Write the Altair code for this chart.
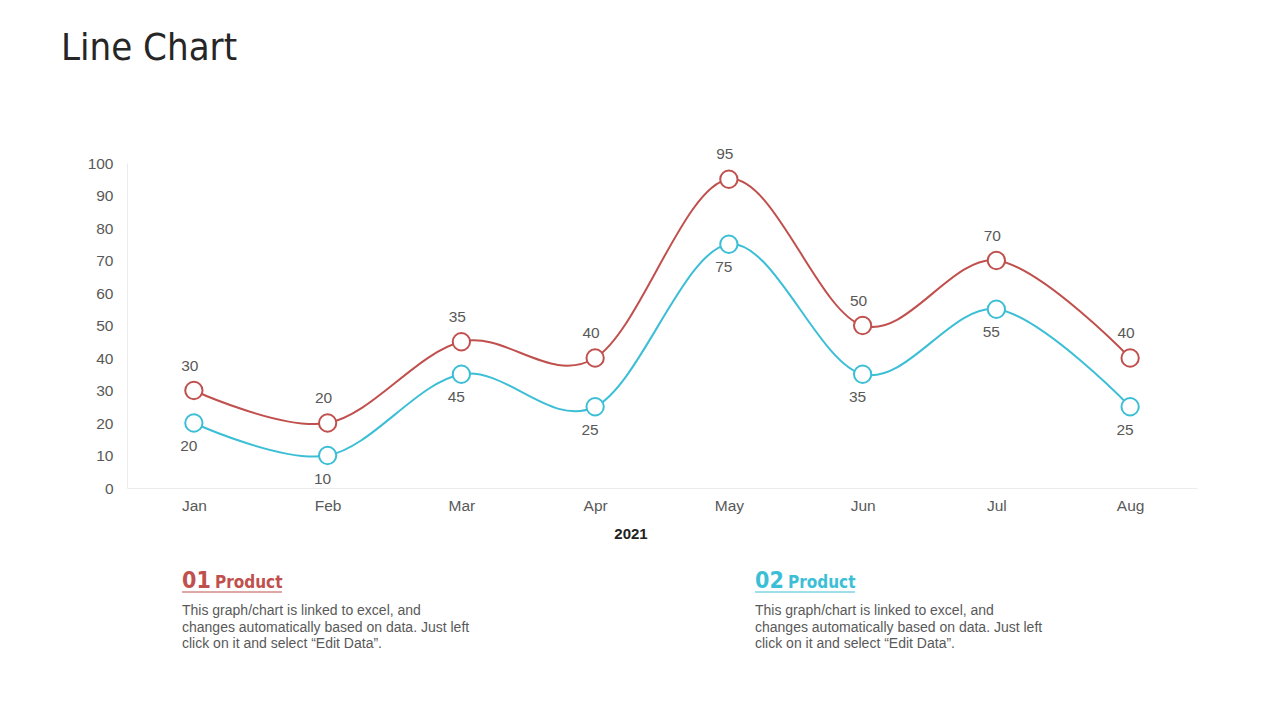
import altair as alt
import pandas as pd

months = ["Jan", "Feb", "Mar", "Apr", "May", "Jun", "Jul", "Aug"]
product1 = [30, 20, 45, 40, 95, 50, 70, 40]
product2 = [20, 10, 35, 25, 75, 35, 55, 25]
label1 = [30, 20, 35, 40, 95, 50, 70, 40]
label2 = [20, 10, 45, 25, 75, 35, 55, 25]
series_names = ["01 Product", "02 Product"]
RED = "#C0504D"
BLUE = "#3CBFD6"
GRAY = "#595959"
NARROW = "DejaVu Sans Condensed, Liberation Sans, sans-serif"
BODY = "Liberation Sans, Arial, sans-serif"

df = pd.DataFrame({
    "month": months * 2,
    "value": product1 + product2,
    "label": label1 + label2,
    "series": [series_names[0]] * len(months) + [series_names[1]] * len(months),
})

x_enc = alt.X("month:N", sort=months,
              scale=alt.Scale(type="point", padding=0.5),
              axis=alt.Axis(title=None, labelAngle=0, ticks=False, grid=False,
                            domainColor="#ececec", labelColor=GRAY, labelFontSize=15.5,
                            labelFont=BODY, labelPadding=10))
y_enc = alt.Y("value:Q", scale=alt.Scale(domain=[0, 100], nice=False),
              axis=alt.Axis(title=None, values=list(range(0, 101, 10)), ticks=False,
                            grid=False, domainColor="#ececec", labelColor=GRAY,
                            labelFontSize=15.5, labelFont=BODY, labelPadding=14))
color_scale = alt.Scale(domain=series_names, range=[RED, BLUE])

base = alt.Chart(df)
lines = base.mark_line(interpolate="cardinal", strokeWidth=2).encode(
    x=x_enc, y=y_enc,
    color=alt.Color("series:N", scale=color_scale, legend=None))
points = base.mark_point(shape="circle", filled=True, size=300, strokeWidth=2, opacity=1).encode(
    x=x_enc, y=y_enc,
    stroke=alt.Stroke("series:N", scale=color_scale, legend=None),
    fill=alt.value("white"))
labels_top = base.transform_filter(alt.datum.series == series_names[0]).mark_text(
    dy=-25, dx=-4, fontSize=15.5, font=BODY, color=GRAY).encode(x=x_enc, y=y_enc, text="label:Q")
labels_bottom = base.transform_filter(alt.datum.series == series_names[1]).mark_text(
    dy=23, dx=-5, fontSize=15.5, font=BODY, color=GRAY).encode(x=x_enc, y=y_enc, text="label:Q")

one = alt.Chart(pd.DataFrame({"a": [0]}))


def txt(text, x, y, **kw):
    return one.mark_text(text=text, **kw).encode(x=alt.value(x), y=alt.value(y))


desc = ["This graph/chart is linked to excel, and",
        "changes automatically based on data. Just left",
        "click on it and select \u201cEdit Data\u201d."]

annotations = [
    txt("Line Chart", -66, -103, fontSize=38, font=NARROW, color="#262626",
        align="left", baseline="alphabetic"),
    txt("2021", 504, 371, fontSize=15, font=BODY, fontWeight="bold", color="#222222",
        align="center", baseline="middle"),
    txt("01", 55, 425, fontSize=23, font=NARROW, fontWeight="bold", color=RED,
        align="left", baseline="alphabetic"),
    txt("Product", 88, 425, fontSize=17, font=NARROW, fontWeight="bold", color=RED,
        align="left", baseline="alphabetic"),
    txt("02", 628, 425, fontSize=23, font=NARROW, fontWeight="bold", color=BLUE,
        align="left", baseline="alphabetic"),
    txt("Product", 661, 425, fontSize=17, font=NARROW, fontWeight="bold", color=BLUE,
        align="left", baseline="alphabetic"),
    txt(desc, 55, 452, fontSize=14, font=BODY, color=GRAY, align="left",
        baseline="alphabetic", lineHeight=16.5),
    txt(desc, 628, 452, fontSize=14, font=BODY, color=GRAY, align="left",
        baseline="alphabetic", lineHeight=16.5),
    one.mark_rule(color=RED, strokeWidth=1.2).encode(
        x=alt.value(55), x2=alt.value(155), y=alt.value(429)),
    one.mark_rule(color=BLUE, strokeWidth=1.2).encode(
        x=alt.value(628), x2=alt.value(728), y=alt.value(429)),
]

chart = alt.layer(lines, points, labels_top, labels_bottom, *annotations).properties(
    width=1070, height=325,
    padding={"left": 119, "top": 155, "right": 60, "bottom": 200},
    autosize=alt.AutoSizeParams(type="none"),
    background="white",
).configure_view(stroke=None)

chart.save("out.html", embed_options={"renderer": "svg", "actions": False})
